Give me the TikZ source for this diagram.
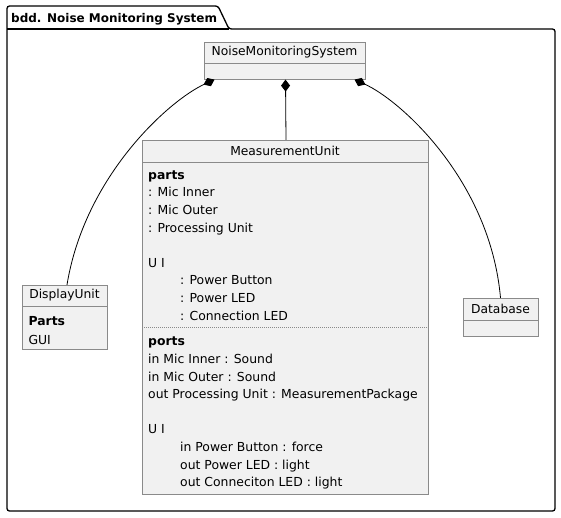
\documentclass[tikz,border=0pt]{standalone}
\usepackage{fontspec}
\setmainfont{DejaVu Sans}
\usepackage{xcolor}
\usetikzlibrary{arrows.meta,positioning}
\definecolor{umlfill}{HTML}{F1F1F1}
\definecolor{umlline}{HTML}{8A8A8A}

\begin{document}
\begin{tikzpicture}[x=1pt,y=-1pt]
	\tikzstyle{hd} = [draw=umlline, fill=umlfill, rectangle, inner sep=0pt, font=\fontsize{12.3}{14}\selectfont]
	\tikzstyle{cp} = [draw=umlline, fill=umlfill, rectangle, inner sep=0pt]
	\tikzstyle{txt} = [anchor=base west, inner sep=0pt, align=left, font=\fontsize{12.4}{17.6}\selectfont]
	\tikzstyle{comp} = [line width=0.8pt, arrows={Diamond[length=12pt,width=9pt]-}]

	\useasboundingbox (0,0) rectangle (561,517);

	% package frame
	\draw [line width=1.3pt, rounded corners=2.5pt] (7,29) -- (7,6) -- (218,6) -- (229,29) -- (555,29) -- (555,511) -- (7,511) -- cycle;
	\draw [line width=1.3pt] (7,29) -- (229,29);
	\node [anchor=base west, inner sep=0pt, font=\fontsize{12}{14}\selectfont\bfseries] (pkg) at (11,22) {bdd. Noise Monitoring System};

	% blocks
	\node [hd, minimum width=161pt, minimum height=21pt] (nms) at (284.5,52.5) {NoiseMonitoringSystem};
	\node [cp, minimum width=161pt, minimum height=16pt, below=0pt of nms] (nmsb) {};

	\node [hd, minimum width=286pt, minimum height=22pt] (mu) at (285,151) {MeasurementUnit};
	\node [cp, minimum width=286pt, minimum height=332pt, below=0pt of mu] (mub) {};

	\node [hd, minimum width=85pt, minimum height=21pt] (du) at (64.5,295.5) {DisplayUnit};
	\node [cp, minimum width=85pt, minimum height=43pt, below=0pt of du] (dub) {};

	\node [hd, minimum width=75pt, minimum height=22pt] (db) at (500.5,309) {Database};
	\node [cp, minimum width=75pt, minimum height=16pt, below=0pt of db] (dbb) {};

	% compartments (placed by the baseline of their last line)
	\node [txt] (muparts) at (148,320) {\textbf{parts}\\: Mic Inner\\: Mic Outer\\: Processing Unit\\[17.6pt]U I\\\hspace*{32pt}: Power Button\\\hspace*{32pt}: Power LED\\\hspace*{32pt}: Connection LED};
	\coordinate (sepl) at (142,327);
	\coordinate (sepr) at (428,327);
	\draw [umlline, dash pattern=on 1pt off 1pt] (sepl) -- (sepr);
	\node [txt] (muports) at (148,486.7) {\textbf{ports}\\in Mic Inner : Sound\\in Mic Outer : Sound\\out Processing Unit : MeasurementPackage\\[17.6pt]U I\\\hspace*{32pt}in Power Button : force\\\hspace*{32pt}out Power LED : light\\\hspace*{32pt}out Conneciton LED : light};
	\node [txt, font=\fontsize{12.4}{19}\selectfont] (duparts) at (28.3,344) {\textbf{Parts}\\GUI};

	% composition
	\draw [comp] ([xshift=-70pt]nmsb.south) .. controls (170,100) and (85,175) .. ([xshift=2.5pt]du.north);
	\draw [comp] ([xshift=1pt]nmsb.south) -- ([xshift=1pt]mu.north);
	\draw [comp] ([xshift=70pt]nmsb.south) .. controls (400,100) and (490,180) .. (db.north);

\end{tikzpicture}
\end{document}
